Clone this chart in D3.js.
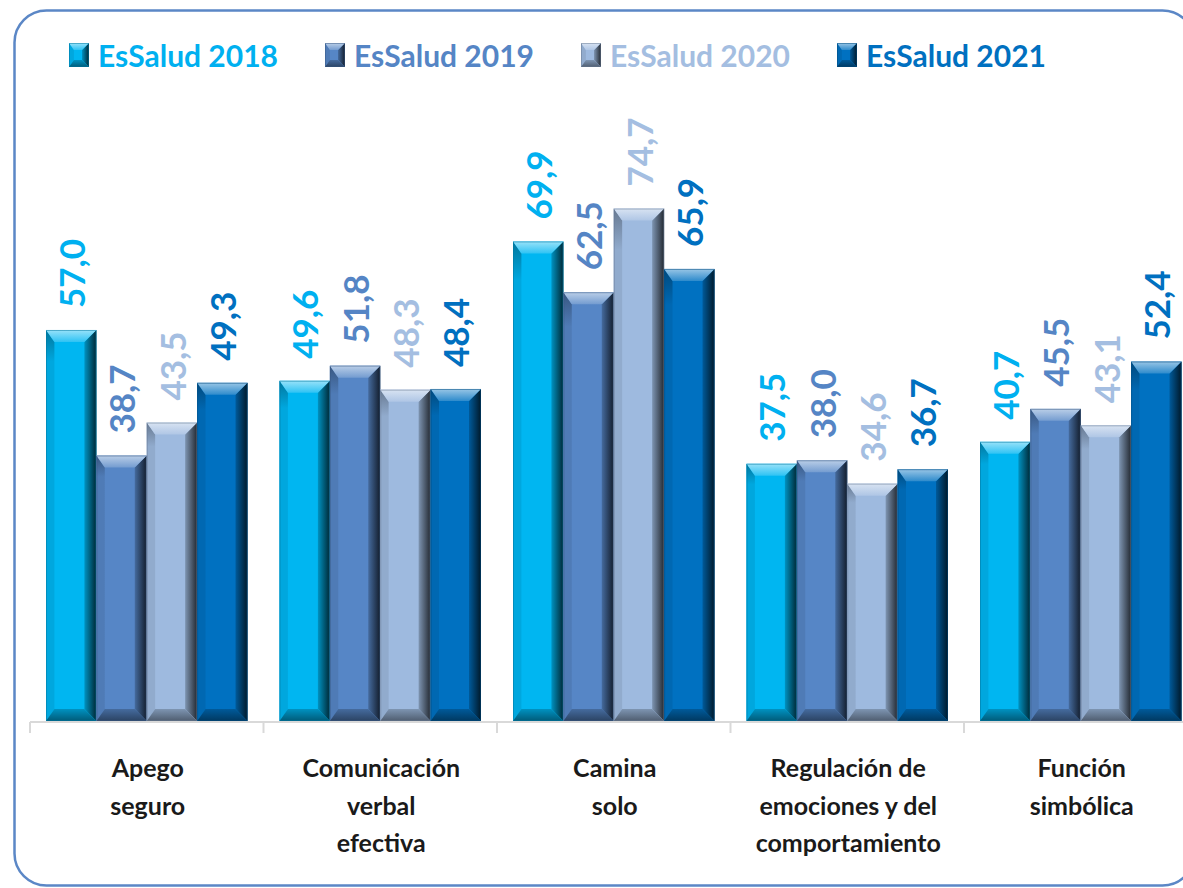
<!DOCTYPE html>
<html lang="es">
<head>
<meta charset="utf-8">
<title>EsSalud 2018–2021</title>
<script src="https://cdn.jsdelivr.net/npm/d3@7"></script>
<style>
  html, body { margin: 0; padding: 0; background: #ffffff; }
  svg { display: block; }
  text { font-family: Lato, "Open Sans", "Noto Sans", sans-serif; font-weight: 700; }
</style>
</head>
<body>
<svg id="chart" width="1183" height="888"></svg>
<script>
// Categories (multi-line labels) and series
const categories = [
  ["Apego", "seguro"],
  ["Comunicación", "verbal", "efectiva"],
  ["Camina", "solo"],
  ["Regulación de", "emociones y del", "comportamiento"],
  ["Función", "simbólica"]
];
const seriesNames = ["EsSalud 2018", "EsSalud 2019", "EsSalud 2020", "EsSalud 2021"];
const values2018 = [57.0, 49.6, 69.9, 37.5, 40.7];
const values2019 = [38.7, 51.8, 62.5, 38.0, 45.5];
const values2020 = [43.5, 48.3, 74.7, 34.6, 43.1];
const values2021 = [49.3, 48.4, 65.9, 36.7, 52.4];
const seriesValues = [values2018, values2019, values2020, values2021];
const barColors = ["#00b6f1", "#5686c6", "#9ebadf", "#0071c1"];
const labelColors = ["#00b0f0", "#5585c5", "#a4bee1", "#0070c0"];
const fmt = v => d3.format(".1f")(v).replace(".", ",");

const svg = d3.select("#chart");
const defs = svg.append("defs");

// Rounded frame around the chart
svg.append("rect")
  .attr("x", 14.5).attr("y", 10.5)
  .attr("width", 1180).attr("height", 875)
  .attr("rx", 32).attr("ry", 32)
  .attr("fill", "#ffffff")
  .attr("stroke", "#5b87c6").attr("stroke-width", 2.5);

// Scales
const catIdx = d3.range(categories.length);
const x0 = d3.scaleBand().domain(catIdx).range([30, 1197.5]).paddingInner(0).paddingOuter(0);
const x1 = d3.scaleBand().domain(d3.range(seriesNames.length))
  .range([16, x0.bandwidth() - 16]).paddingInner(0).paddingOuter(0);
const y = d3.scaleLinear().domain([0, 80]).range([721, 721 - 80 * 6.86]);

const mix = (a, b, t) => d3.interpolateRgb(a, b)(t);

// Gradients for the bevelled bar faces
barColors.forEach((c, i) => {
  const r = defs.append("linearGradient").attr("id", "rside" + i)
    .attr("x1", 0).attr("x2", 1).attr("y1", 0).attr("y2", 0);
  r.append("stop").attr("offset", 0).attr("stop-color", mix(c, "#000", 0.2));
  r.append("stop").attr("offset", 1).attr("stop-color", mix(c, "#000", 0.78));
  const t = defs.append("linearGradient").attr("id", "top" + i)
    .attr("x1", 0).attr("x2", 0).attr("y1", 0).attr("y2", 1);
  t.append("stop").attr("offset", 0).attr("stop-color", mix(c, "#fff", 0.6));
  t.append("stop").attr("offset", 1).attr("stop-color", mix(c, "#fff", 0.18));
  const b = defs.append("linearGradient").attr("id", "bot" + i)
    .attr("x1", 0).attr("x2", 0).attr("y1", 0).attr("y2", 1);
  b.append("stop").attr("offset", 0).attr("stop-color", mix(c, "#000", 0.2));
  b.append("stop").attr("offset", 1).attr("stop-color", mix(c, "#000", 0.5));
  const l = defs.append("linearGradient").attr("id", "lside" + i)
    .attr("x1", 0).attr("x2", 0).attr("y1", 0).attr("y2", 1);
  l.append("stop").attr("offset", 0).attr("stop-color", mix(c, "#000", 0.35));
  l.append("stop").attr("offset", 0.08).attr("stop-color", mix(c, "#000", 0.08));
  l.append("stop").attr("offset", 1).attr("stop-color", mix(c, "#000", 0.08));
});

// Draw one bevelled bar
function bevelBar(g, x, yTop, w, h, si, bev) {
  const c = barColors[si];
  const b = Math.min(bev, h / 2);
  const bl = b * 0.7;
  const yb = yTop + h;
  g.append("rect").attr("x", x).attr("y", yTop).attr("width", w).attr("height", h).attr("fill", c);
  const poly = (pts, fill) => g.append("polygon")
    .attr("points", pts.map(p => p.join(",")).join(" ")).attr("fill", fill);
  poly([[x, yTop], [x + bl, yTop + b], [x + bl, yb - b], [x, yb]], `url(#lside${si})`);
  poly([[x + w, yTop], [x + w - b, yTop + b], [x + w - b, yb - b], [x + w, yb]], `url(#rside${si})`);
  poly([[x, yTop], [x + w, yTop], [x + w - b, yTop + b], [x + bl, yTop + b]], `url(#top${si})`);
  poly([[x, yb], [x + w, yb], [x + w - b, yb - b], [x + bl, yb - b]], `url(#bot${si})`);
  g.append("rect").attr("x", x + 0.5).attr("y", yTop + 0.5).attr("width", w - 1).attr("height", h - 1)
    .attr("fill", "none").attr("stroke", mix(c, "#000", 0.35)).attr("stroke-width", 1).attr("stroke-opacity", 0.5);
}

// Bars and value labels
const groups = svg.append("g").selectAll("g").data(catIdx).join("g")
  .attr("transform", ci => `translate(${x0(ci)},0)`);

groups.each(function(ci) {
  const g = d3.select(this);
  seriesValues.forEach((vals, si) => {
    const v = vals[ci];
    const bx = x1(si), bw = x1.bandwidth();
    const top = y(v);
    bevelBar(g, bx, top, bw, y(0) - top, si, 12);
    g.append("text")
      .attr("transform", `translate(${bx + bw / 2 + 1},${top - 22}) rotate(-90)`)
      .attr("dy", "0.36em")
      .attr("font-size", 35)
      .attr("fill", labelColors[si])
      .text(fmt(v));
  });
});

// Category axis
const axis = svg.append("g");
axis.append("line").attr("x1", 30).attr("x2", 1200).attr("y1", 722).attr("y2", 722)
  .attr("stroke", "#d9d9d9").attr("stroke-width", 2);
d3.range(categories.length + 1).forEach(i => {
  const tx = 30 + i * x0.bandwidth();
  axis.append("line").attr("x1", tx).attr("x2", tx).attr("y1", 722).attr("y2", 733)
    .attr("stroke", "#d9d9d9").attr("stroke-width", 2);
});
categories.forEach((lines, ci) => {
  const t = axis.append("text")
    .attr("text-anchor", "middle")
    .attr("font-size", 25)
    .attr("fill", "#1a1a1a");
  lines.forEach((ln, li) => {
    t.append("tspan").attr("x", x0(ci) + x0.bandwidth() / 2 + 1).attr("y", 777 + li * 37.5).text(ln);
  });
});

// Legend
const legend = svg.append("g");
seriesNames.forEach((name, si) => {
  const lx = 69 + si * 256;
  const g = legend.append("g");
  bevelBar(g, lx, 43, 20, 24, si, 7);
  g.append("text").attr("x", lx + 29).attr("y", 67)
    .attr("font-size", 30).attr("fill", labelColors[si]).text(name);
});
</script>
</body>
</html>
